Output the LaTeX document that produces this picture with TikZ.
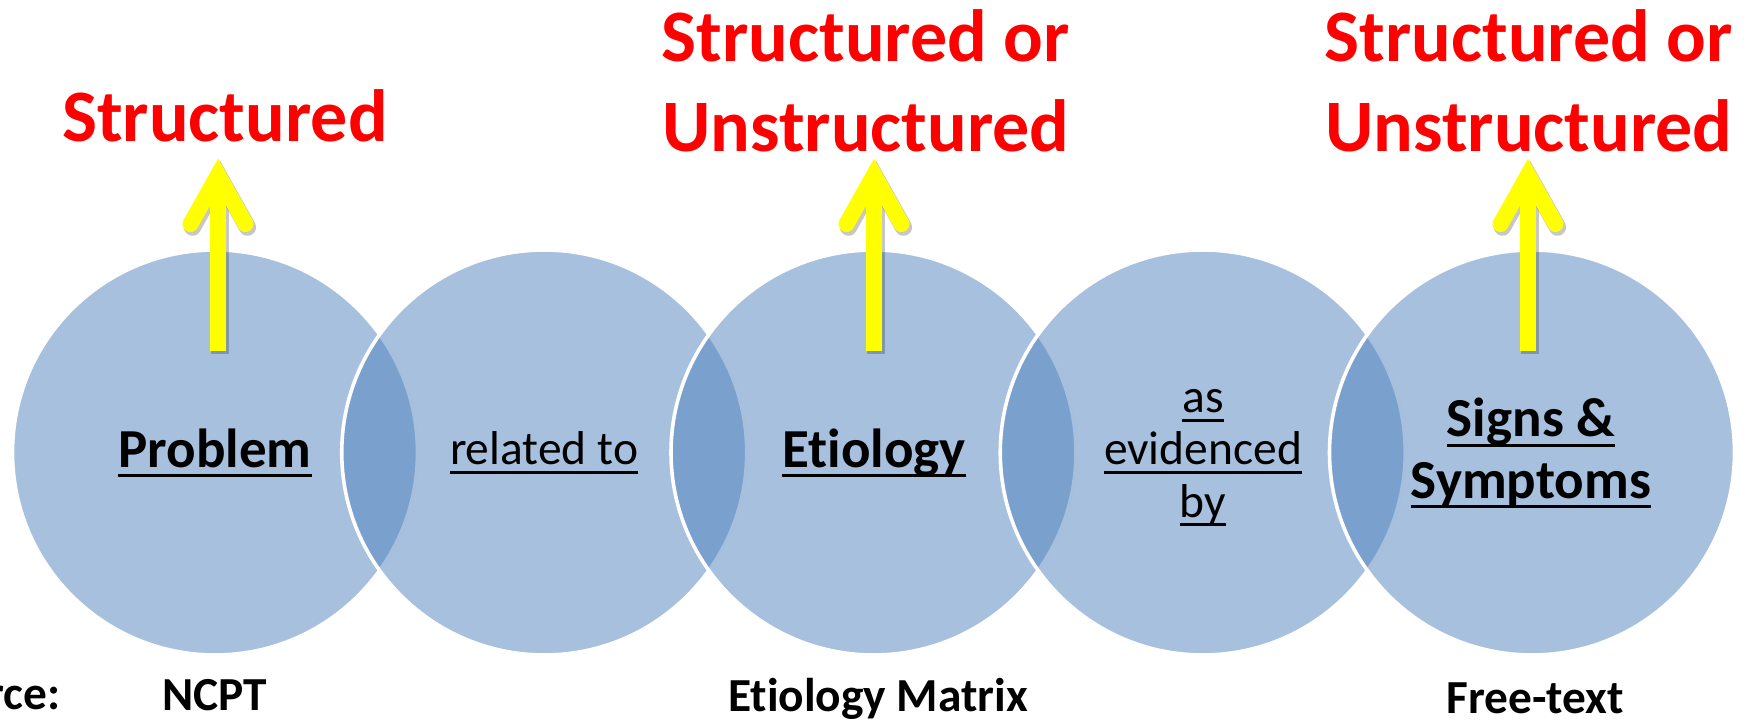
\documentclass[tikz,border=0pt]{standalone}
\usepackage{fontspec}
\setmainfont{Carlito}[Ligatures={NoCommon}]
\definecolor{bubbleblue}{HTML}{4F81BD}
\definecolor{labelred}{HTML}{FF0000}
\definecolor{arrowyellow}{HTML}{FFFF00}
% underline at a fixed depth below the baseline (crosses descenders)
\newsavebox\ulbox
\newcommand\ultext[1]{\sbox\ulbox{#1}\rlap{\rule[-0.19em]{\wd\ulbox}{0.055em}}\usebox\ulbox}
% yellow up-arrow: #1 = name prefix, #2 = x position
\newcommand\yellowarrow[2]{%
  \coordinate (#1base) at (#2,351);
  \coordinate (#1tip)  at (#2,175);
  \coordinate (#1l)    at (#2-27.5,224);
  \coordinate (#1r)    at (#2+27.5,224);
  \begin{scope}[transform canvas={xshift=1pt,yshift=-1.6pt}]
    \draw[arrowshade] (#1base) -- (#1tip);
    \draw[arrowshade, line cap=round, line join=miter] (#1l) -- (#1tip) -- (#1r);
  \end{scope}
  \draw[yshaft] (#1base) -- (#1tip);
  \draw[yhead] (#1l) -- (#1tip) -- (#1r);
}
\begin{document}
\begin{tikzpicture}[x=0.5pt,y=-0.5pt,
  bubble/.style={circle, minimum size=202.5pt, inner sep=0pt, outer sep=0pt,
    fill=bubbleblue, fill opacity=0.5, draw=white, draw opacity=1, line width=1.8pt},
  boldlbl/.style={inner sep=0pt, anchor=base, font=\fontsize{27.5pt}{33pt}\selectfont\bfseries},
  plainlbl/.style={inner sep=0pt, anchor=base, font=\fontsize{23.75pt}{28pt}\selectfont},
  redlbl/.style={inner sep=0pt, anchor=base, text=labelred, font=\fontsize{37pt}{44pt}\selectfont\bfseries},
  botlbl/.style={inner sep=0pt, anchor=base, font=\fontsize{23.7pt}{28pt}\selectfont\bfseries},
  yshaft/.style={draw=arrowyellow, line width=8pt, line cap=butt},
  yhead/.style={draw=arrowyellow, line width=8pt, line cap=round, line join=miter},
  arrowshade/.style={draw=black, draw opacity=0.22, line width=8.6pt, line cap=butt},
]
\useasboundingbox (0,0) rectangle (1752,727);

% overlapping circles, left to right
\node[bubble] (c1) at (215,452.5) {};
\node[bubble] (c2) at (544.25,452.5) {};
\node[bubble] (c3) at (873.5,452.5) {};
\node[bubble] (c4) at (1202.75,452.5) {};
\node[bubble] (c5) at (1532,452.5) {};

% circle labels
\node[boldlbl] (t1) at (215,467) {\ultext{Problem}};
\node[plainlbl] (t2) at (544,465) {\ultext{related to}};
\node[boldlbl] (t3) at (874,467) {\ultext{Etiology}};
\node[plainlbl] (t4a) at (1203,413) {\ultext{as}};
\node[plainlbl] (t4b) at (1203,465) {\ultext{evidenced}};
\node[plainlbl] (t4c) at (1203,517) {\ultext{by}};
\node[boldlbl] (t5a) at (1531,437) {\ultext{Signs \&}};
\node[boldlbl] (t5b) at (1531,498) {\ultext{Symptoms}};

% yellow arrows
\yellowarrow{a1}{218}
\yellowarrow{a3}{874}
\yellowarrow{a5}{1528}

% red labels above the arrows
\node[redlbl] (r1) at (225,142) {Structured};
\node[redlbl] (r3a) at (866,62) {Structured or};
\node[redlbl] (r3b) at (866,152) {Unstructured};
\node[redlbl] (r5a) at (1529,62) {Structured or};
\node[redlbl] (r5b) at (1529,152) {Unstructured};

% source row (the caption runs off the left edge)
\node[botlbl, anchor=base east] (b0) at (61,709) {Source:};
\node[botlbl] (b1) at (215,710) {NCPT};
\node[botlbl] (b3) at (878,711) {Etiology Matrix};
\node[botlbl] (b5) at (1535,713) {Free-text};
\end{tikzpicture}
\end{document}
